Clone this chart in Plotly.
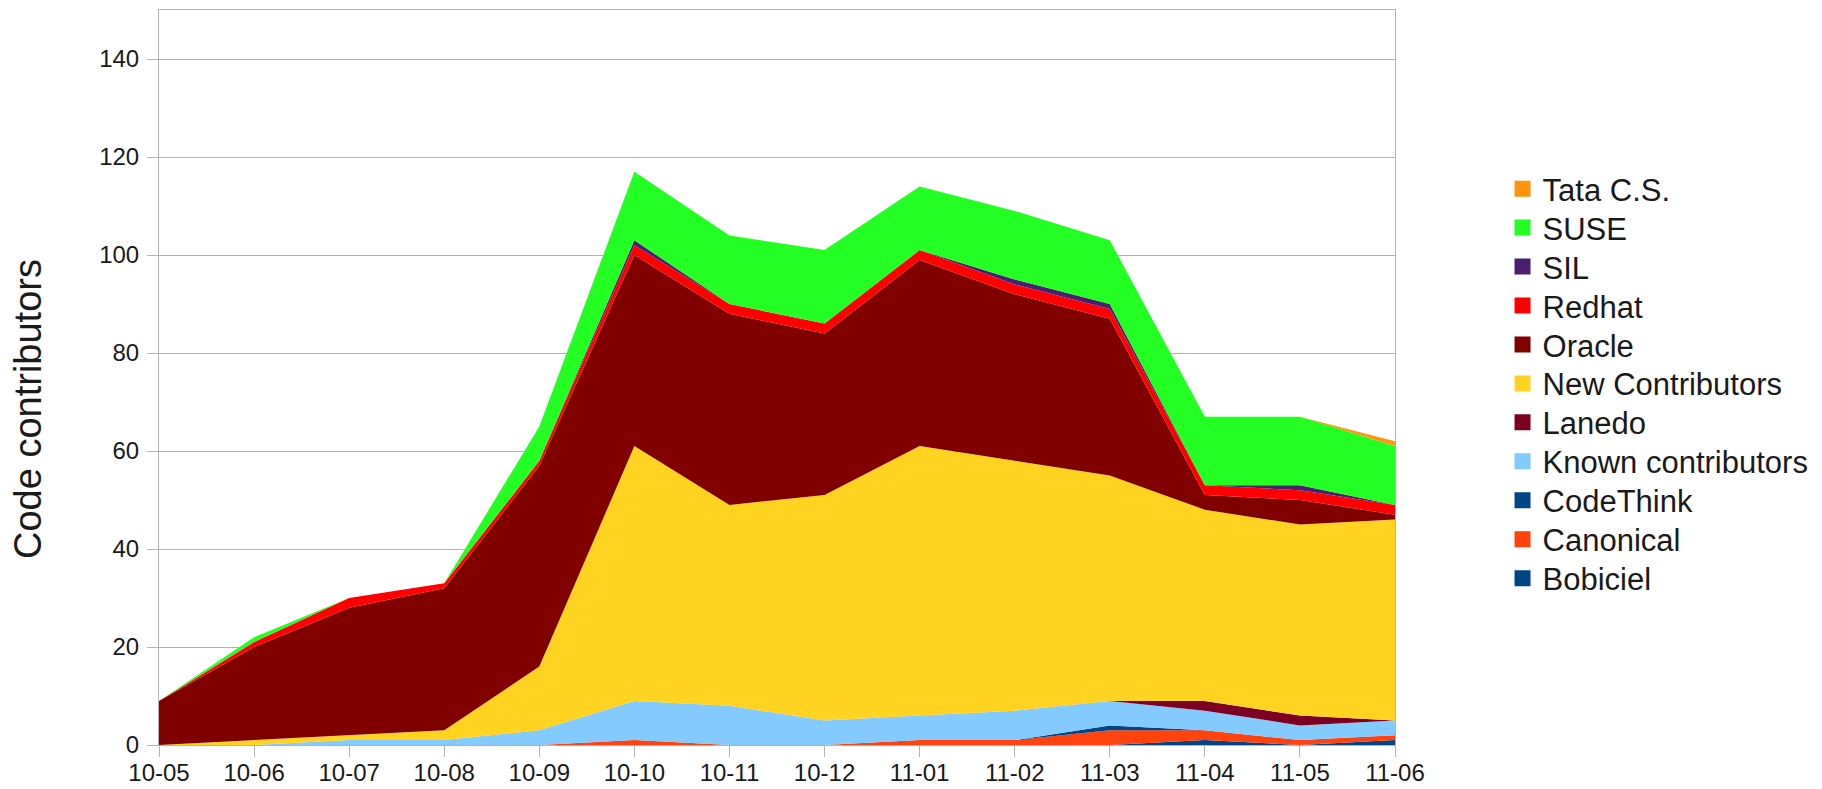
import plotly.graph_objects as go

months = ['10-05', '10-06', '10-07', '10-08', '10-09', '10-10', '10-11',
          '10-12', '11-01', '11-02', '11-03', '11-04', '11-05', '11-06']

bobiciel = [0, 0, 0, 0, 0, 0, 0, 0, 0, 0, 0, 1, 0, 1]
canonical = [0, 0, 0, 0, 0, 1, 0, 0, 1, 1, 3, 2, 1, 1]
codethink = [0, 0, 0, 0, 0, 0, 0, 0, 0, 0, 1, 0, 0, 0]
known_contributors = [0, 0, 1, 1, 3, 8, 8, 5, 5, 6, 5, 4, 3, 3]
lanedo = [0, 0, 0, 0, 0, 0, 0, 0, 0, 0, 0, 2, 2, 0]
new_contributors = [0, 1, 1, 2, 13, 52, 41, 46, 55, 51, 46, 39, 39, 41]
oracle = [9, 19, 26, 29, 41, 39, 39, 33, 38, 34, 32, 3, 5, 1]
redhat = [0, 1, 2, 1, 1, 2, 2, 2, 2, 2, 2, 2, 2, 2]
sil = [0, 0, 0, 0, 0, 1, 0, 0, 0, 1, 1, 0, 1, 0]
suse = [0, 1, 0, 0, 7, 14, 14, 15, 13, 14, 13, 14, 14, 12]
tata = [0, 0, 0, 0, 0, 0, 0, 0, 0, 0, 0, 0, 0, 1]

y_ticks = [0, 20, 40, 60, 80, 100, 120, 140]

series = [
    ('Bobiciel', bobiciel, '#004586'),
    ('Canonical', canonical, '#ff420e'),
    ('CodeThink', codethink, '#004586'),
    ('Known contributors', known_contributors, '#83caff'),
    ('Lanedo', lanedo, '#7e0021'),
    ('New Contributors', new_contributors, '#ffd320'),
    ('Oracle', oracle, '#800000'),
    ('Redhat', redhat, '#ff0000'),
    ('SIL', sil, '#4b1f6f'),
    ('SUSE', suse, '#23ff23'),
    ('Tata C.S.', tata, '#ff950e'),
]

FONT = 'Liberation Sans, Arial, sans-serif'
W, H = 1822, 789
L, R, T, B = 159, 427, 10, 44
PW, PH = W - L - R, H - T - B

fig = go.Figure()
for name, vals, color in series:
    fig.add_trace(go.Scatter(
        x=months, y=vals, name=name, mode='lines',
        stackgroup='one', line=dict(width=0, color=color),
        fillcolor=color, showlegend=False, hoverinfo='x+y+name'))

# legend: one entry per legend box, listed top (Tata) to bottom (Bobiciel)
legend_layout = {}
n = len(series)
first_center, row_gap = 189.0, 38.95
for i, (name, vals, color) in enumerate(series):
    row = n - 1 - i
    key = 'legend' if i == 0 else f'legend{i + 1}'
    fig.add_trace(go.Scatter(
        x=[None], y=[None], name=name, mode='markers',
        marker=dict(symbol='square', size=19, color=color),
        showlegend=True, legend=key))
    yc = first_center + row * row_gap
    legend_layout[key] = dict(
        x=1.087, xanchor='left', y=(H - B - yc) / PH, yanchor='middle',
        font=dict(size=31, family=FONT, color='#1a1a1a'),
        bgcolor='rgba(0,0,0,0)', borderwidth=0)

fig.update_layout(
    width=W, height=H,
    margin=dict(l=L, r=R, t=T, b=B, autoexpand=False),
    paper_bgcolor='white', plot_bgcolor='white',
    font=dict(family=FONT, color='#1a1a1a'),
    showlegend=True,
    xaxis=dict(
        type='category', range=[0, len(months) - 1], automargin=False,
        showgrid=False, zeroline=False,
        showline=True, mirror=True, linecolor='#b3b3b3', linewidth=1,
        ticks='outside', ticklen=11, tickcolor='#b3b3b3', tickwidth=1,
        ticklabelstandoff=-5,
        tickfont=dict(size=24, family=FONT, color='#1a1a1a')),
    yaxis=dict(
        range=[0, 150], tickvals=y_ticks, automargin=False,
        showgrid=True, gridcolor='#b3b3b3', gridwidth=1, zeroline=False,
        showline=True, mirror=True, linecolor='#b3b3b3', linewidth=1,
        ticks='outside', ticklen=11, tickcolor='#b3b3b3', tickwidth=1,
        ticklabelstandoff=3,
        tickfont=dict(size=24, family=FONT, color='#1a1a1a')),
    annotations=[dict(
        text='Code contributors', textangle=-90,
        xref='paper', yref='paper', x=(28 - L) / PW, y=(H - B - 409) / PH,
        xanchor='center', yanchor='middle', showarrow=False,
        font=dict(size=38, family=FONT, color='#1a1a1a'))],
)
fig.update_layout(**legend_layout)

fig.write_html('out.html', config={'displayModeBar': False},
               post_script="document.body.style.margin='0';")
